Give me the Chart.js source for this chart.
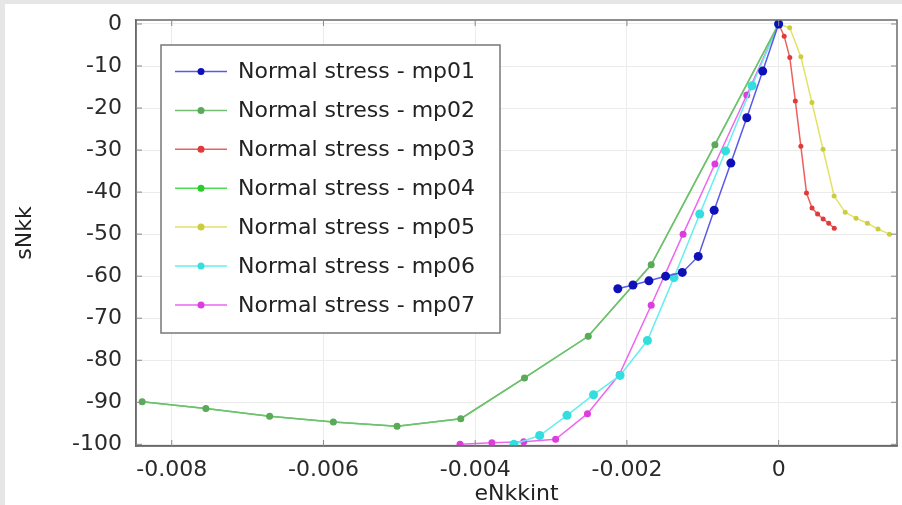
<!DOCTYPE html>
<html>
<head>
<meta charset="utf-8">
<script src="https://cdn.jsdelivr.net/npm/chart.js@4"></script>
<style>
  html, body { margin: 0; padding: 0; background: #fff; }
  canvas { display: block; }
</style>
</head>
<body>
<canvas id="stressChart" width="902" height="505"></canvas>
<script>
// values
const seriesNames = ['Normal stress - mp01', 'Normal stress - mp02', 'Normal stress - mp03',
  'Normal stress - mp04', 'Normal stress - mp05', 'Normal stress - mp06', 'Normal stress - mp07'];

const mp01_x = [0, -0.00021, -0.00042, -0.00063, -0.00085, -0.00106, -0.00127, -0.00149, -0.00171, -0.00192, -0.00212];
const mp01_y = [0, -11.2, -22.3, -33.1, -44.3, -55.3, -59.1, -60.0, -61.1, -62.1, -63.0];

const mp02_x = [0, -0.00084, -0.00168, -0.00251, -0.00335, -0.00419, -0.00503, -0.00587, -0.00671, -0.00755, -0.00839];
const mp02_y = [0, -28.7, -57.3, -74.3, -84.2, -93.9, -95.7, -94.7, -93.3, -91.5, -89.9];

const mp03_x = [0, 0.000073, 0.000147, 0.00022, 0.000293, 0.000367, 0.00044, 0.000513, 0.000587, 0.00066, 0.000733];
const mp03_y = [0, -2.9, -8.0, -18.3, -29.1, -40.2, -43.8, -45.2, -46.4, -47.4, -48.6];

// mp04 lies on top of mp02
const mp04_x = [0, -0.00084, -0.00168, -0.00251, -0.00335, -0.00419, -0.00503, -0.00587, -0.00671, -0.00755, -0.00839];
const mp04_y = [0, -28.7, -57.3, -74.3, -84.2, -93.9, -95.7, -94.7, -93.3, -91.5, -89.9];

const mp05_x = [0, 0.000146, 0.000293, 0.000439, 0.000585, 0.000731, 0.000877, 0.00102, 0.00117, 0.00131, 0.00146];
const mp05_y = [0, -0.9, -7.8, -18.7, -29.8, -40.9, -44.8, -46.2, -47.4, -48.8, -50.0];

const mp06_x = [0, -0.00035, -0.0007, -0.00104, -0.00138, -0.00173, -0.00209, -0.00244, -0.00279, -0.00315, -0.00349];
const mp06_y = [0, -14.7, -30.2, -45.2, -60.3, -75.3, -83.6, -88.2, -93.1, -97.9, -100];

const mp07_x = [0, -0.00042, -0.00084, -0.00126, -0.00168, -0.0021, -0.00252, -0.00294, -0.00336, -0.00378, -0.0042];
const mp07_y = [0, -16.9, -33.3, -50.0, -66.9, -83.4, -92.7, -98.8, -99.4, -99.6, -100];

const xTicks = [-0.008, -0.006, -0.004, -0.002, 0];
const yTicks = [0, -10, -20, -30, -40, -50, -60, -70, -80, -90, -100];

const lineColors  = ['#5a5ae6', '#74bd74', '#ee6060', '#4fdc4f', '#e2e266', '#66eeee', '#ee66ee'];
const pointColors = ['#1010b8', '#5aaa5a', '#e03a3a', '#2acc2a', '#cccc40', '#33dede', '#dd3ddd'];
const pointSizes  = [4.5, 3.5, 2.5, 3, 2.5, 4.5, 3.5];

const FONT = 'DejaVu Sans';

function toPoints(xs, ys) {
  return xs.map((x, i) => ({ x: x, y: ys[i] }));
}

const allX = [mp01_x, mp02_x, mp03_x, mp04_x, mp05_x, mp06_x, mp07_x];
const allY = [mp01_y, mp02_y, mp03_y, mp04_y, mp05_y, mp06_y, mp07_y];

const datasets = seriesNames.map((name, i) => ({
  label: name,
  data: toPoints(allX[i], allY[i]),
  borderColor: lineColors[i],
  backgroundColor: pointColors[i],
  pointBackgroundColor: pointColors[i],
  pointBorderColor: pointColors[i],
  pointRadius: pointSizes[i],
  pointBorderWidth: 0,
  borderWidth: 1.5,
  tension: 0,
  fill: false
}));

// light gray border of the screenshot
const backdrop = {
  id: 'backdrop',
  beforeDraw(chart) {
    const c = chart.ctx;
    c.save();
    c.fillStyle = '#ffffff';
    c.fillRect(0, 0, chart.width, chart.height);
    c.fillStyle = '#e6e6e6';
    c.fillRect(0, 0, chart.width, 4);
    c.fillRect(0, 0, 5, chart.height);
    c.restore();
  }
};

// box round the plot and small inward tick marks
const frame = {
  id: 'frame',
  afterDatasetsDraw(chart) {
    const c = chart.ctx;
    const a = chart.chartArea;
    const xs = chart.scales.x, ys = chart.scales.y;
    c.save();
    c.strokeStyle = '#6a6a6a';
    c.lineWidth = 1.5;
    c.strokeRect(a.left, a.top, a.right - a.left, a.bottom - a.top);
    c.lineWidth = 1;
    c.strokeStyle = '#888';
    c.beginPath();
    xTicks.forEach(v => {
      const px = xs.getPixelForValue(v);
      c.moveTo(px, a.bottom); c.lineTo(px, a.bottom - 6);
      c.moveTo(px, a.top); c.lineTo(px, a.top + 6);
    });
    yTicks.forEach(v => {
      const py = ys.getPixelForValue(v);
      c.moveTo(a.left, py); c.lineTo(a.left + 6, py);
      c.moveTo(a.right, py); c.lineTo(a.right - 6, py);
    });
    c.stroke();
    c.restore();
  }
};

// legend box inside the plot, like the original
const boxLegend = {
  id: 'boxLegend',
  afterDraw(chart) {
    const c = chart.ctx;
    const left = 161, top = 45, right = 500, bottom = 333;
    c.save();
    c.fillStyle = '#fff';
    c.fillRect(left, top, right - left, bottom - top);
    c.strokeStyle = '#777';
    c.lineWidth = 1.5;
    c.strokeRect(left, top, right - left, bottom - top);
    c.font = '22px "' + FONT + '"';
    c.textBaseline = 'middle';
    c.fillStyle = '#222';
    chart.data.datasets.forEach((ds, i) => {
      const y = 71.5 + i * 38.9;
      c.strokeStyle = ds.borderColor;
      c.lineWidth = 1.5;
      c.beginPath();
      c.moveTo(175, y); c.lineTo(227, y);
      c.stroke();
      c.fillStyle = ds.pointBackgroundColor;
      c.beginPath();
      c.arc(201, y, 3.5, 0, Math.PI * 2);
      c.fill();
      c.fillStyle = '#222';
      c.fillText(ds.label, 238, y + 1);
    });
    c.restore();
  }
};

const chart = new Chart(document.getElementById('stressChart').getContext('2d'), {
  type: 'line',
  data: { datasets: datasets },
  plugins: [backdrop, frame, boxLegend],
  options: {
    responsive: false,
    animation: false,
    layout: { padding: { top: 20, right: 5, left: 0, bottom: 0 } },
    plugins: {
      legend: { display: false },
      tooltip: { enabled: false }
    },
    scales: {
      x: {
        type: 'linear',
        min: -0.008471,
        max: 0.00156,
        afterBuildTicks: s => { s.ticks = xTicks.map(v => ({ value: v })); },
        afterFit: s => { s.height = 59; s.paddingLeft = 0; s.paddingRight = 0; },
        grid: { color: '#ececec', drawTicks: false },
        border: { display: true, color: '#6a6a6a', width: 1.5 },
        ticks: {
          padding: 11,
          color: '#2a2a2a',
          font: { family: FONT, size: 22 },
          maxRotation: 0,
          callback: v => (v === 0 ? '0' : v.toFixed(3))
        },
        title: {
          display: true,
          text: 'eNkkint',
          color: '#222',
          font: { family: FONT, size: 22, lineHeight: 1 },
          padding: { top: 0, bottom: 0 }
        }
      },
      y: {
        type: 'linear',
        min: -100.4,
        max: 0.95,
        afterBuildTicks: s => { s.ticks = yTicks.map(v => ({ value: v })); },
        afterFit: s => { s.width = 136; s.paddingTop = 0; s.paddingBottom = 0; },
        grid: { color: '#ececec', drawTicks: false },
        border: { display: true, color: '#6a6a6a', width: 1.5 },
        ticks: {
          padding: 14,
          color: '#2a2a2a',
          font: { family: FONT, size: 22 },
          callback: v => String(v)
        },
        title: {
          display: true,
          text: 'sNkk',
          color: '#222',
          font: { family: FONT, size: 22, lineHeight: 1 },
          padding: { top: 14, bottom: 0 }
        }
      }
    }
  }
});
</script>
</body>
</html>
